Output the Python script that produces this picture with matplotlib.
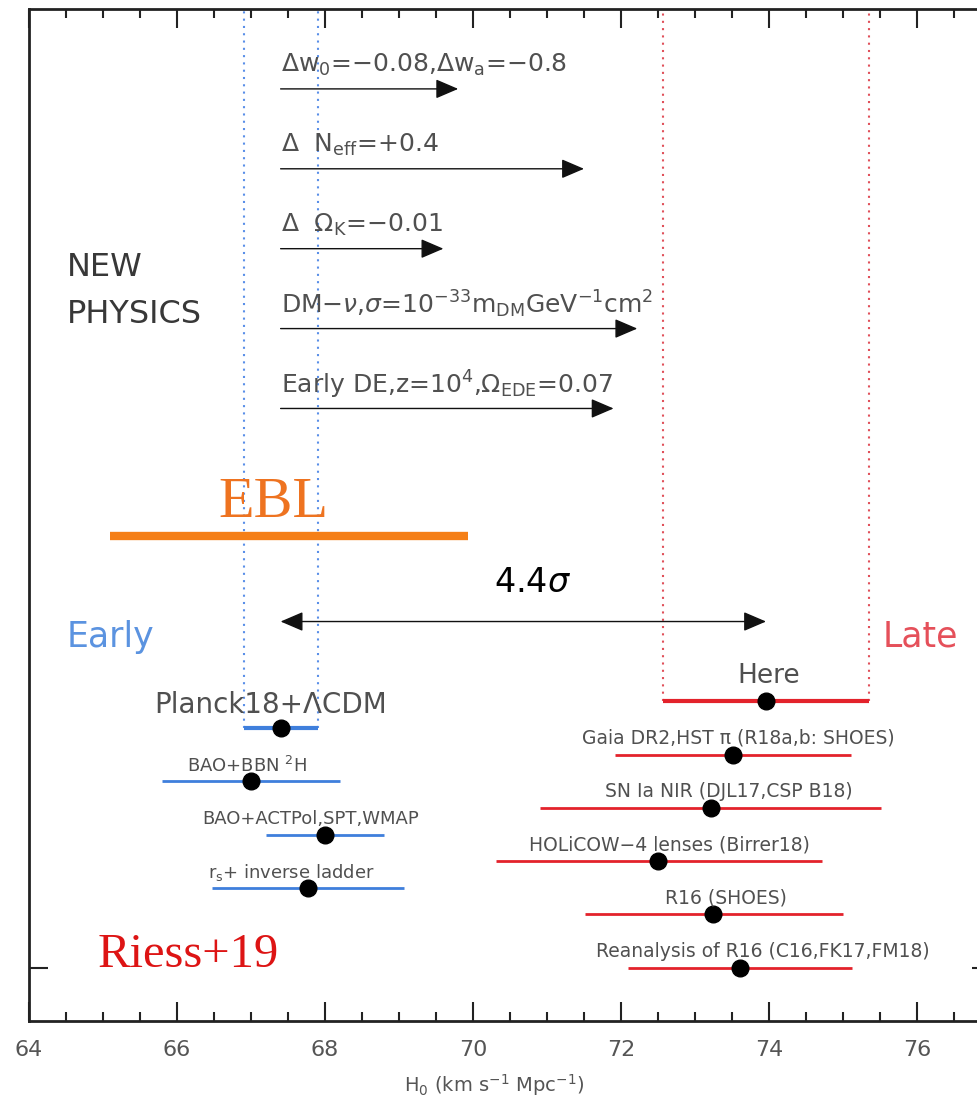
import numpy as np
import matplotlib
matplotlib.use("Agg")
import matplotlib.pyplot as plt
from matplotlib.ticker import MultipleLocator

# early-universe measurements (blue)
early_labels = ["Planck18+ΛCDM", "BAO+BBN $^2$H", "BAO+ACTPol,SPT,WMAP", "r$_\\mathrm{s}$+ inverse ladder"]
early_h0 = [67.4, 67.0, 68.0, 67.77]
early_lo = [66.9, 65.8, 67.2, 66.47]
early_hi = [67.9, 68.2, 68.8, 69.07]
early_y = [5.5, 4.5, 3.5, 2.5]

# late-universe measurements (red)
late_labels = ["Here", "Gaia DR2,HST π (R18a,b: SHOES)", "SN Ia NIR (DJL17,CSP B18)",
               "HOLiCOW−4 lenses (Birrer18)", "R16 (SHOES)", "Reanalysis of R16 (C16,FK17,FM18)"]
late_h0 = [73.96, 73.51, 73.22, 72.5, 73.24, 73.61]
late_lo = [72.57, 71.92, 70.9, 70.31, 71.51, 72.09]
late_hi = [75.35, 75.11, 75.51, 74.72, 75.0, 75.12]
late_y = [6.0, 5.0, 4.0, 3.0, 2.0, 1.0]

# new physics shifts, arrows start at Planck value
physics_labels = ["Δw$_\\mathrm{0}$=−0.08,Δw$_\\mathrm{a}$=−0.8",
                  "Δ  N$_\\mathrm{eff}$=+0.4",
                  "Δ  Ω$_\\mathrm{K}$=−0.01",
                  "DM−$\\nu$,$\\sigma$=10$^{-33}$m$_\\mathrm{DM}$GeV$^{-1}$cm$^2$",
                  "Early DE,z=10$^4$,Ω$_\\mathrm{EDE}$=0.07"]
physics_h0 = [69.8, 71.5, 69.6, 72.22, 71.9]
physics_y = [17.5, 16.0, 14.5, 13.0, 11.5]

ebl_lo, ebl_hi = 65.1, 69.93
ebl_y = 9.1
tension_y = 7.5

BLUE = "#3f7fdc"
RED = "#e3222b"
GRAY = "#505050"

fig = plt.figure(figsize=(9.78, 10.98), dpi=100)
ax = fig.add_axes([29 / 978, 77 / 1098, 962 / 978, 1012 / 1098])
ax.set_xlim(64, 77)
ax.set_ylim(0, 19)

# dotted bands
for x in (early_lo[0], early_hi[0]):
    ax.plot([x, x], [early_y[0], 19], ls=(0, (1, 2.5)), color="#5a8fe8", lw=1.5)
for x in (late_lo[0], late_hi[0]):
    ax.plot([x, x], [late_y[0], 19], ls=(0, (1, 2.5)), color="#e0505a", lw=1.5)

# early points
early_lx = [67.27, 66.95, 67.8, 67.54]
for i in range(len(early_h0)):
    lw = 3.0 if i == 0 else 2.0
    ax.plot([early_lo[i], early_hi[i]], [early_y[i], early_y[i]], color=BLUE, lw=lw, solid_capstyle="butt")
    ax.plot(early_h0[i], early_y[i], "o", color="black", ms=12)
    fs = 20 if i == 0 else 13
    dy = 0.43 if i == 0 else 0.29
    ax.text(early_lx[i], early_y[i] + dy, early_labels[i], ha="center", va="center",
            fontsize=fs, color=GRAY)

# late points
late_lx = [74.0, 73.59, 73.46, 72.66, 73.42, 73.91]
for i in range(len(late_h0)):
    lw = 3.0 if i == 0 else 2.0
    ax.plot([late_lo[i], late_hi[i]], [late_y[i], late_y[i]], color=RED, lw=lw, solid_capstyle="butt")
    ax.plot(late_h0[i], late_y[i], "o", color="black", ms=12)
    fs = 19 if i == 0 else 13.5
    dy = 0.47 if i == 0 else 0.31
    ax.text(late_lx[i], late_y[i] + dy, late_labels[i], ha="center", va="center",
            fontsize=fs, color=GRAY)

# new physics arrows
for lab, tip, y in zip(physics_labels, physics_h0, physics_y):
    ax.annotate("", xy=(tip, y), xytext=(early_h0[0], y),
                arrowprops=dict(arrowstyle="-|>,head_length=0.7,head_width=0.3",
                                mutation_scale=20, lw=1.0, color="#111111",
                                shrinkA=0, shrinkB=0))
    ax.text(early_h0[0], y + 0.45, lab, ha="left", va="center", fontsize=18, color=GRAY)

ax.text(64.51, 13.7, "NEW\nPHYSICS", ha="left", va="center", fontsize=23,
        color="#383838", linespacing=1.65)

# EBL
ax.plot([ebl_lo, ebl_hi], [ebl_y, ebl_y], color="#f57f17", lw=6, solid_capstyle="butt")
ax.text(67.3, 9.46, "EBL", ha="center", va="baseline", fontsize=42,
        family="Liberation Serif", color="#ee7320")

# tension arrow
ax.annotate("", xy=(late_h0[0], tension_y), xytext=(early_h0[0], tension_y),
            arrowprops=dict(arrowstyle="<|-|>,head_length=0.7,head_width=0.3",
                            mutation_scale=20, lw=1.0, color="#111111",
                            shrinkA=0, shrinkB=0))
ax.text(70.8, 8.24, "4.4$\\sigma$", ha="center", va="center", fontsize=24, color="black")

ax.text(64.51, 7.21, "Early", ha="left", va="center", fontsize=25, color="#5b93e0")
ax.text(75.54, 7.21, "Late", ha="left", va="center", fontsize=25, color="#e5505a")

ax.text(64.93, 1.01, "Riess+19", ha="left", va="baseline", fontsize=35,
        family="Liberation Serif", color="#dd1414")

# axes styling
ax.xaxis.set_major_locator(MultipleLocator(2))
ax.xaxis.set_minor_locator(MultipleLocator(0.5))
ax.set_yticks([1])
ax.set_yticklabels([])
ax.tick_params(axis="both", which="major", direction="in", length=14, width=1.5,
               top=True, right=True, labelsize=16, labelcolor="#555555", pad=14, color="#222222")
ax.tick_params(axis="both", which="minor", direction="in", length=6.5, width=1.5,
               top=True, right=True, color="#222222")
ax.tick_params(axis="y", which="minor", left=False, right=False)
for s in ax.spines.values():
    s.set_linewidth(2)
    s.set_color("#222222")
ax.set_xlabel("H$_0$ (km s$^{-1}$ Mpc$^{-1}$)", fontsize=14, color="#555555")
ax.xaxis.set_label_coords(0.484, -0.05)

fig.savefig("out.png", dpi=100)
